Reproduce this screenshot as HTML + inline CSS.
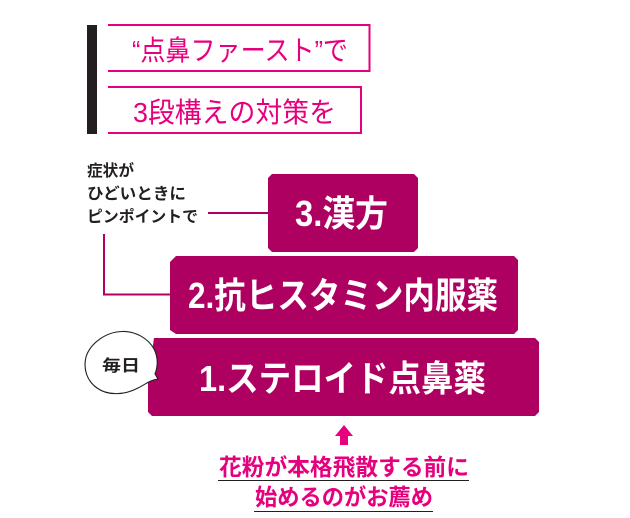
<!DOCTYPE html>
<html lang="ja">
<head>
<meta charset="utf-8">
<style>
html,body{margin:0;padding:0;background:#fff;width:630px;height:518px;overflow:hidden}
svg{display:block}
text{font-family:"Liberation Sans","Noto Sans CJK JP",sans-serif}
</style>
</head>
<body>
<svg width="630" height="518" viewBox="0 0 630 518" xmlns="http://www.w3.org/2000/svg">
<rect x="87" y="25" width="10" height="109" fill="#231f20"/>
<path d="M108 25H369.500V71H108" fill="none" stroke="#e6007e" stroke-width="2"/>
<path d="M108 87H361V133H108" fill="none" stroke="#e6007e" stroke-width="2"/>
<text x="132" y="60" font-size="28" font-weight="400" fill="#e6007e" textLength="216" lengthAdjust="spacingAndGlyphs">“点鼻ファースト”で</text>
<text x="133" y="122" font-size="28" font-weight="400" fill="#e6007e" textLength="203" lengthAdjust="spacingAndGlyphs">3段構えの対策を</text>

<g font-size="16" font-weight="700" fill="#231f20">
<text x="87" y="176" textLength="47" lengthAdjust="spacingAndGlyphs">症状が</text>
<text x="87" y="199" textLength="99" lengthAdjust="spacingAndGlyphs">ひどいときに</text>
<text x="87" y="222" textLength="111" lengthAdjust="spacingAndGlyphs">ピンポイントで</text>
</g>

<path d="M208 213H270M104 234V294.500H172" fill="none" stroke="#ae0060" stroke-width="2"/>

<path d="M272 174H414L418 178V248L414 252H272L268 248V178Z" fill="#ae0060"/>
<path d="M176 256H514L518 260V330L514 334H176L170 330V262Z" fill="#ae0060"/>
<path d="M154 338H535L539 342V412L535 416H152L148 412V380Z" fill="#ae0060"/>

<g font-weight="700" fill="#fff" font-size="36">
<text x="295" y="226" textLength="93" lengthAdjust="spacingAndGlyphs">3.漢方</text>
<text x="188" y="308" textLength="310" lengthAdjust="spacingAndGlyphs">2.抗ヒスタミン内服薬</text>
<text x="199" y="391" textLength="287" lengthAdjust="spacingAndGlyphs">1.ステロイド点鼻薬</text>
</g>

<path d="M122 331.500C135 331 148 338 154 349C158 357 158 366 155 374L158 379C150 380 146 384 138 388C125 395 108 396 97 388C87 381 83 369 86 357C90 344 105 332 122 331.500Z" fill="#fff" stroke="#231f20" stroke-width="1.100"/>
<text x="102" y="371" font-size="16" font-weight="700" fill="#231f20" textLength="38" lengthAdjust="spacingAndGlyphs">毎日</text>

<path d="M344 425L353 436H348V445H340V436H335Z" fill="#e6007e"/>
<g font-size="23" font-weight="700" fill="#e6007e">
<text x="219" y="475" textLength="250" lengthAdjust="spacingAndGlyphs">花粉が本格飛散する前に</text>
<text x="255" y="505" textLength="178" lengthAdjust="spacingAndGlyphs">始めるのがお薦め</text>
</g>
<path d="M218 480.500H469M254 511.500H433" stroke="#231f20" stroke-width="1" fill="none"/>
</svg>
</body>
</html>
